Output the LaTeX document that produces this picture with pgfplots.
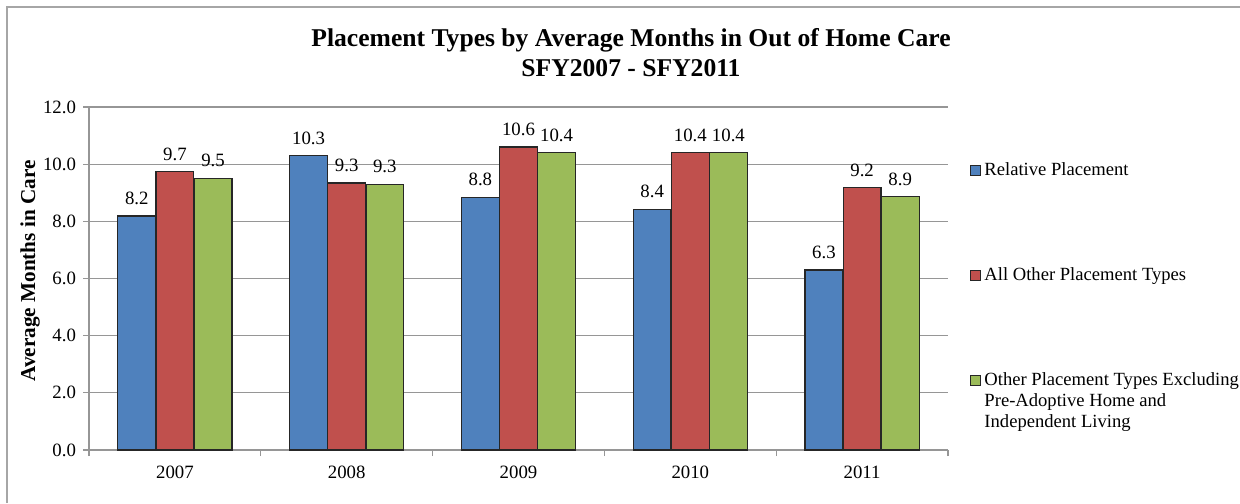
\documentclass[border=0pt]{standalone}
\usepackage{fontspec}
\setmainfont{Liberation Serif}
\usepackage{pgfplots}
\pgfplotsset{compat=1.18}
\definecolor{cblue}{HTML}{4F81BD}
\definecolor{cred}{HTML}{C0504D}
\definecolor{cgreen}{HTML}{9BBB59}
\definecolor{gline}{RGB}{150,150,150}
\pgfplotsset{
  sqleg/.style={legend image code/.code={\draw[##1, draw=black!85, line width=0.6pt] (0pt,-2.6pt) rectangle (5.2pt,2.6pt);}},
  upleg/.style={legend image code/.code={\draw[##1, draw=black!85, line width=0.6pt] (0pt,7.9pt) rectangle (5.2pt,13.1pt);}},
}
\begin{document}
\begin{tikzpicture}
\useasboundingbox (0,0) rectangle (620pt,251.5pt);
\draw[color=black!35, line width=1pt] (3.5pt,0pt) -- (3.5pt,248pt) -- (620pt,248pt);
\node[font=\bfseries\fontsize{12.8}{15}\selectfont] at (315.5pt,231.5pt) {Placement Types by Average Months in Out of Home Care};
\node[font=\bfseries\fontsize{12.8}{15}\selectfont] at (315.5pt,217.5pt) {SFY2007 - SFY2011};
\begin{axis}[
  at={(44.5pt,26.5pt)}, anchor=south west,
  scale only axis, width=429.5pt, height=171.5pt,
  xmin=-0.5, xmax=4.5, ymin=0, ymax=12,
  ybar, bar width=0.22,
  axis x line=bottom, axis y line=left,
  axis line style={-, draw=gline, line width=0.8pt},
  ytick={0,2,...,12},
  yticklabel style={/pgf/number format/.cd, fixed, fixed zerofill, precision=1, assume math mode=true},
  ymajorgrids, major grid style={draw=gline, line width=0.6pt},
  tick align=outside, major tick length=3pt,
  ytick style={draw=gline, line width=0.6pt},
  xtick={0,1,2,3,4}, xticklabels={2007,2008,2009,2010,2011},
  xtick style={draw=none},
  extra x ticks={-0.5,0.5,1.5,2.5,3.5,4.5}, extra x tick labels={},
  extra x tick style={grid=none, xtick style={draw=gline, line width=0.6pt}},
  tick label style={font=\fontsize{9.4}{11}\selectfont},
  xticklabel style={yshift=-1.5pt},
  ylabel={Average Months in Care},
  ylabel style={font=\bfseries\fontsize{10.6}{12}\selectfont, at={(axis description cs:-0.0687,0.522)}, anchor=center},
  nodes near coords,
  nodes near coords style={font=\fontsize{9.4}{11}\selectfont, yshift=2pt, /pgf/number format/.cd, fixed, fixed zerofill, precision=1, assume math mode=true},
  every axis plot/.append style={draw=black!85, line width=0.6pt},
  legend style={at={(1.018,0.862)}, anchor=north west, draw=none, fill=none,
    font=\fontsize{9.3}{10.5}\selectfont, row sep=40.5pt,
    nodes={align=left, inner xsep=1.5pt}},
  legend cell align=left,
]
\addplot[fill=cblue, bar shift=-0.222, sqleg] coordinates {(0,8.19) (1,10.3) (2,8.84) (3,8.42) (4,6.3)};
\addplot[fill=cred, bar shift=0, sqleg] coordinates {(0,9.73) (1,9.34) (2,10.6) (3,10.4) (4,9.18)};
\addplot[fill=cgreen, bar shift=0.222, upleg] coordinates {(0,9.5) (1,9.3) (2,10.4) (3,10.4) (4,8.86)};
\legend{Relative Placement, All Other Placement Types, {Other Placement Types Excluding\\Pre-Adoptive Home and\\Independent Living}}
\end{axis}
\end{tikzpicture}
\end{document}
